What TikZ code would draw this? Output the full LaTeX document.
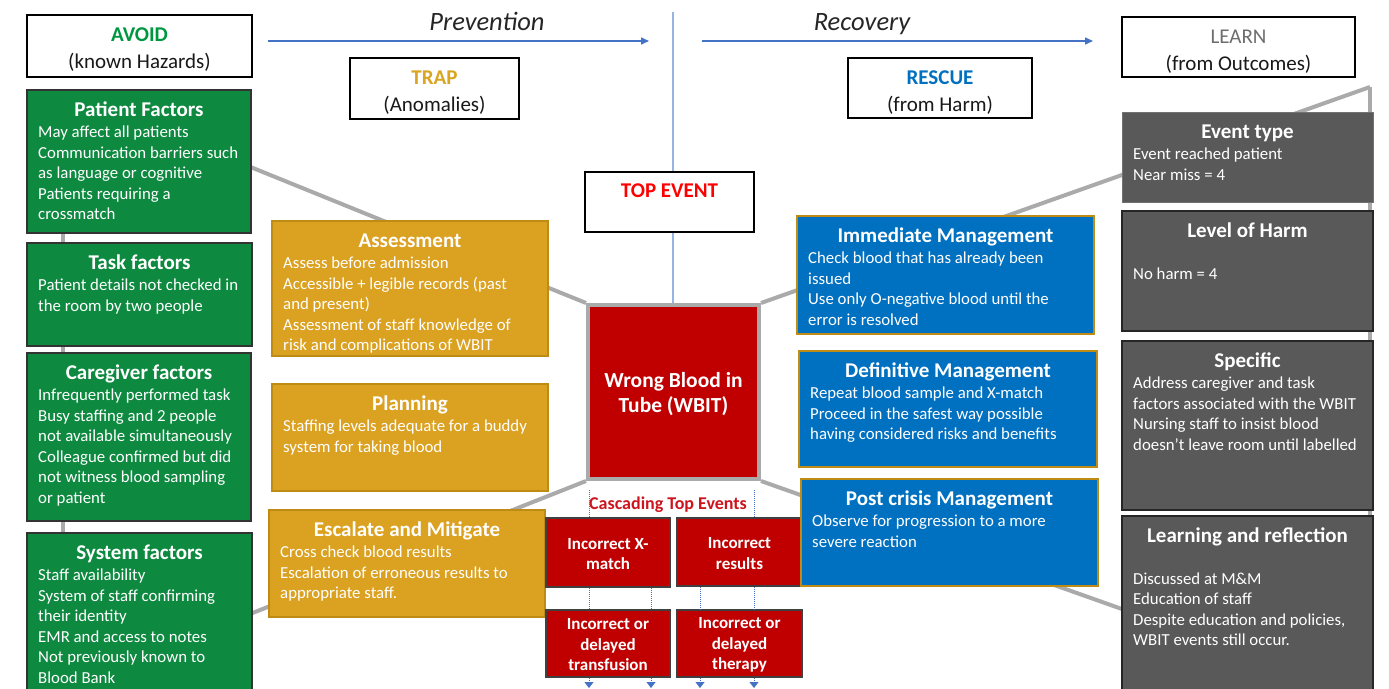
\documentclass[tikz,border=0pt]{standalone}
\usepackage{fontspec}
\setmainfont{Carlito}
\usetikzlibrary{arrows.meta,fit}
\definecolor{cgreen}{RGB}{14,137,64}
\definecolor{cgold}{RGB}{219,161,33}
\definecolor{cgoldb}{RGB}{190,140,20}
\definecolor{cblue}{RGB}{0,112,192}
\definecolor{cred}{RGB}{192,0,0}
\definecolor{cgray}{RGB}{89,89,89}
\definecolor{cline}{RGB}{170,170,170}
\definecolor{carrow}{RGB}{68,114,196}
\definecolor{cpale}{RGB}{150,180,225}
\definecolor{tgreen}{RGB}{0,150,64}
\definecolor{tgold}{RGB}{218,165,32}
\definecolor{tgray}{RGB}{110,110,110}
\definecolor{tred}{RGB}{255,0,0}
\definecolor{cred2}{RGB}{205,20,30}
\newcommand\ttlfont{\fontsize{21}{25}\selectfont\bfseries}
\newcommand\bdyfont{\fontsize{16.8}{20.5}\selectfont}
\newcommand\lblfont{\fontsize{21}{25}\selectfont}
\tikzset{
  panel/.style={rectangle, inner sep=0pt, line width=1.5pt},
  gbox/.style={panel, fill=cgreen, draw=black!80},
  obox/.style={panel, fill=cgold, draw=cgoldb},
  bbox/.style={panel, fill=cblue, draw=cgoldb},
  dbox/.style={panel, fill=cgray, draw=black!85, line width=2pt},
  dboxl/.style={panel, fill=cgray, draw=cgray!85!white, line width=1pt},
  rbox/.style={panel, fill=cred, draw=black!75},
  lbox/.style={panel, fill=white, draw=black},
  gline/.style={draw=cline, line width=4pt},
  bline/.style={draw=carrow, line width=1.5pt},
  dline/.style={draw=carrow, line width=1pt, densely dotted},
  rtext/.style={font=\fontsize{17}{20.5}\selectfont\bfseries, text=white, align=center},
}
\newcommand\mkpanel[8]{%
  \node[#2, fit={(#3,#4)(#5,#6)}] (#1) {};
  \node[anchor=base, font=\ttlfont, text=white] (#1-t) at ({(#3+#5)/2},{#4+26}) {#7};
  \node[anchor=north west, align=left, font=\bdyfont, text=white, inner sep=0pt] (#1-b) at ({#3+11},{#4+47.5-14}) {\rule{0pt}{14pt}#8};
}
\begin{document}
\begin{tikzpicture}[x=1pt,y=-1pt]
\useasboundingbox (0,0) rectangle (1389,688);
% centre event
\node[panel, fill=cred, draw=cline, line width=4pt, fit={(588,305)(759,479)}] (wbit) {};
\node[font=\fontsize{21.5}{25}\selectfont\bfseries, text=white, align=center] (wbit-t) at ([yshift=-2pt]wbit.center) {Wrong Blood in\\Tube (WBIT)};
% bow-tie connectors
\coordinate (lt) at (63,91);
\coordinate (lb) at (63,688);
\coordinate (rt) at (1370,87);
\coordinate (rb) at (1370,697);
\draw[gline] (lt) -- (lb);
\draw[gline] (rt) -- (rb);
\draw[gline] (wbit.north west) -- (lt);
\draw[gline] (wbit.south west) -- (lb);
\draw[gline] (wbit.north east) -- (rt);
\draw[gline] (wbit.south east) -- (rb);
% top axis
\coordinate (vt) at (673,12);
\coordinate (p1) at (268,41);
\coordinate (p2) at (649,41);
\coordinate (r1) at (702,41);
\coordinate (r2) at (1093,41);
\draw[bline, -{Triangle[length=8pt,width=7pt]}] (p1) -- (p2);
\draw[bline, -{Triangle[length=8pt,width=7pt]}] (r1) -- (r2);
\node[anchor=base, font=\fontsize{26.5}{30}\selectfont\itshape, text=black!85] (prev) at (487,30) {Prevention};
\node[anchor=base, font=\fontsize{26.5}{30}\selectfont\itshape, text=black!85] (reco) at (862,30) {Recovery};
% label boxes
\node[lbox, fit={(27,15)(252,77)}] (avoid) {};
\node[anchor=base, font=\lblfont\bfseries, text=tgreen] (avoid-t) at (avoid.north |- 0,41) {AVOID};
\node[anchor=base, font=\lblfont, text=black!90] (avoid-s) at (avoid.north |- 0,68.5) {(known Hazards)};
\node[lbox, fit={(350,58)(519,119)}] (trap) {};
\node[anchor=base, font=\lblfont\bfseries, text=tgold] (trap-t) at (trap.north |- 0,84) {TRAP};
\node[anchor=base, font=\lblfont, text=black!90] (trap-s) at (trap.north |- 0,111.5) {(Anomalies)};
\node[lbox, fit={(848,58)(1032,118)}] (rescue) {};
\node[anchor=base, font=\lblfont\bfseries, text=cblue] (rescue-t) at (rescue.north |- 0,84) {RESCUE};
\node[anchor=base, font=\lblfont, text=black!90] (rescue-s) at (rescue.north |- 0,111.5) {(from Harm)};
\node[lbox, fit={(1122,17)(1355,77)}] (learn) {};
\node[anchor=base, font=\lblfont, text=tgray] (learn-t) at (learn.north |- 0,43) {LEARN};
\node[anchor=base, font=\lblfont, text=black!90] (learn-s) at (learn.north |- 0,70.5) {(from Outcomes)};
\draw[cpale, line width=1.2pt] (vt) -- (vt |- wbit.north);
\node[lbox, fit={(585,172)(754,232)}] (top) {};
\node[anchor=base, font=\lblfont\bfseries, text=tred] (top-t) at (top.north |- 0,197) {TOP EVENT};
% green: hazards
\mkpanel{pf}{gbox}{27}{90}{251}{233}{Patient Factors}{May affect all patients\\Communication barriers such\\as language or cognitive\\Patients requiring a\\crossmatch}
\mkpanel{tf}{gbox}{27}{243}{252}{346}{Task factors}{Patient details not checked in\\the room by two people}
\mkpanel{cf}{gbox}{27}{353}{251}{521}{Caregiver factors}{Infrequently performed task\\Busy staffing and 2 people\\not available simultaneously\\Colleague confirmed but did\\not witness blood sampling\\or patient}
\mkpanel{sf}{gbox}{27}{533}{252}{700}{System factors}{Staff availability\\System of staff confirming\\their identity\\EMR and access to notes\\Not previously known to\\Blood Bank}
% gold: trap
\mkpanel{as}{obox}{272}{221}{548}{356}{Assessment}{Assess before admission\\Accessible + legible records (past\\and present)\\Assessment of staff knowledge of\\risk and complications of WBIT}
\mkpanel{pl}{obox}{272}{384}{548}{491}{Planning}{Staffing levels adequate for a buddy\\system for taking blood}
\mkpanel{es}{obox}{269}{510}{545}{617}{Escalate and Mitigate}{Cross check blood results\\Escalation of erroneous results to\\appropriate staff.}
% cascading events
\coordinate (c1) at (589,490);
\coordinate (c2) at (754,490);
\coordinate (c3) at (651,490);
\coordinate (c4) at (700,490);
\node[anchor=base, font=\fontsize{18}{20}\selectfont\bfseries, text=cred2] (casc) at (668,509) {Cascading Top Events};
\node[rbox, fit={(546,518)(670,587)}] (xm) {};
\node[rtext] (xm-t) at ([yshift=-1.5pt]xm.center) {Incorrect X-\\match};
\node[rbox, fit={(677,518)(802,586)}] (ir) {};
\node[rtext] (ir-t) at ([yshift=-1.5pt]ir.center) {Incorrect\\results};
\node[rbox, fit={(546,610)(670,677)}] (tr) {};
\node[rtext] (tr-t) at ([yshift=-1.5pt]tr.center) {Incorrect or\\delayed\\transfusion};
\node[rbox, fit={(677,610)(802,677)}] (th) {};
\node[rtext] (th-t) at ([yshift=-1.5pt]th.center) {Incorrect or\\delayed\\therapy};
\draw[dline] (c1) -- (c1 |- xm.north);
\draw[dline] (c2) -- (c2 |- ir.north);
\draw[dline] (xm.south -| c1) -- (tr.north -| c1);
\draw[dline] (xm.south -| c3) -- (tr.north -| c3);
\draw[dline] (ir.south -| c4) -- (th.north -| c4);
\draw[dline] (ir.south -| c2) -- (th.north -| c2);
\coordinate (e1) at (589,688);
\coordinate (e2) at (651,688);
\coordinate (e3) at (700,688);
\coordinate (e4) at (754,688);
\draw[dline, -{Triangle[length=6pt,width=9pt]}] (tr.south -| e1) -- (e1);
\draw[dline, -{Triangle[length=6pt,width=9pt]}] (tr.south -| e2) -- (e2);
\draw[dline, -{Triangle[length=6pt,width=9pt]}] (th.south -| e3) -- (e3);
\draw[dline, -{Triangle[length=6pt,width=9pt]}] (th.south -| e4) -- (e4);
% blue: rescue
\mkpanel{im}{bbox}{797}{216}{1094}{334}{Immediate Management}{Check blood that has already been\\issued\\Use only O-negative blood until the\\error is resolved}
\mkpanel{dm}{bbox}{799}{351}{1097}{467}{Definitive Management}{Repeat blood sample and X-match\\Proceed in the safest way possible\\having considered risks and benefits}
\mkpanel{pc}{bbox}{801}{479}{1098}{586}{Post crisis Management}{Observe for progression to a more\\severe reaction}
% grey: learn
\mkpanel{et}{dboxl}{1122}{112}{1373}{202}{Event type}{Event reached patient\\Near miss = 4}
\mkpanel{lh}{dbox}{1122}{211}{1373}{331}{Level of Harm}{\\No harm = 4}
\mkpanel{sp}{dbox}{1122}{341}{1373}{510}{Specific}{Address caregiver and task\\factors associated with the WBIT\\Nursing staff to insist blood\\doesn’t leave room until labelled}
\mkpanel{lr}{dbox}{1122}{516}{1373}{700}{Learning and reflection}{\\Discussed at M\&M\\Education of staff\\Despite education and policies,\\WBIT events still occur.}
\end{tikzpicture}
\end{document}
